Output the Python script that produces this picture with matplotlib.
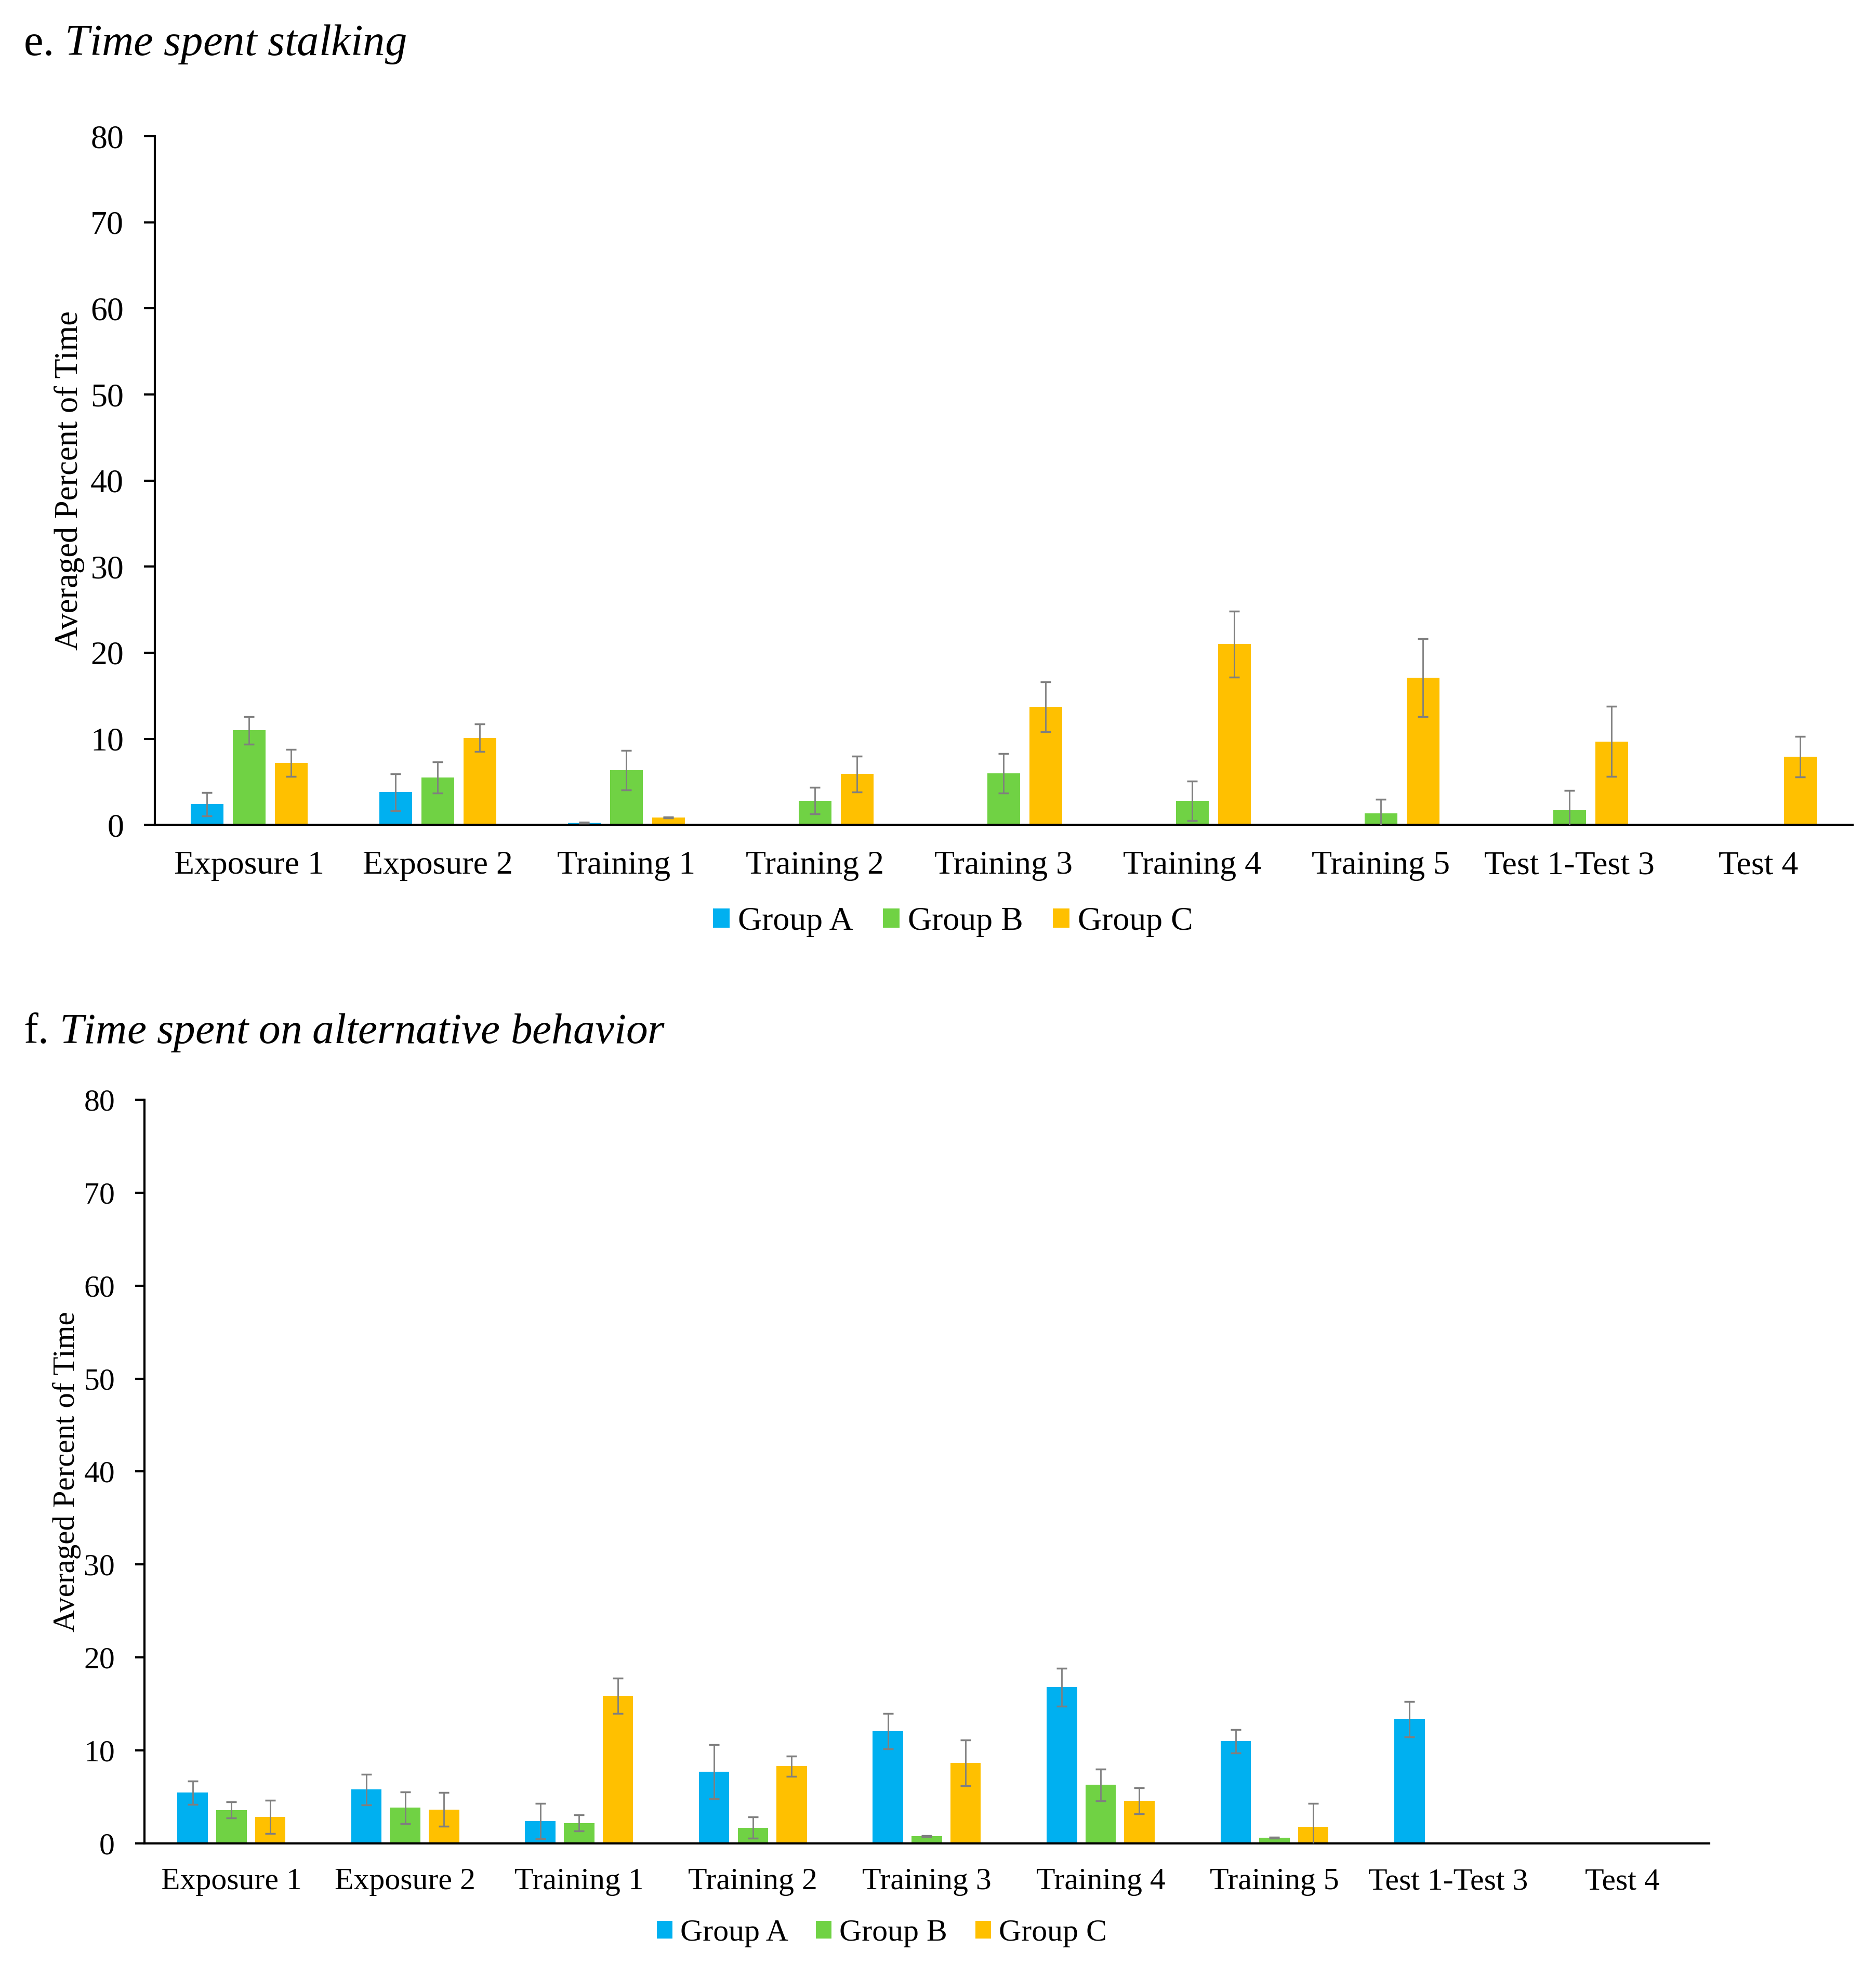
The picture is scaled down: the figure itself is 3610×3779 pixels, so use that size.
import numpy as np
import matplotlib.pyplot as plt

plt.rcParams['font.family'] = ['Liberation Serif', 'DejaVu Serif']
plt.rcParams['mathtext.fontset'] = 'custom'
plt.rcParams['mathtext.rm'] = 'Liberation Serif'
plt.rcParams['mathtext.it'] = 'Liberation Serif:italic'

categories = ["Exposure 1", "Exposure 2", "Training 1", "Training 2", "Training 3",
              "Training 4", "Training 5", "Test 1-Test 3", "Test 4"]
groups = ["Group A", "Group B", "Group C"]
colors = ["#00B0F0", "#70D244", "#FFC000"]

# e. time spent stalking (mean and error)
stalk_a = [2.4, 3.8, 0.25, 0, 0, 0, 0, 0, 0]
stalk_b = [11.0, 5.5, 6.35, 2.8, 6.0, 2.8, 1.35, 1.7, 0]
stalk_c = [7.2, 10.1, 0.85, 5.9, 13.7, 21.0, 17.1, 9.7, 7.9]
stalk_a_err = [1.35, 2.15, 0.05, 0, 0, 0, 0, 0, 0]
stalk_b_err = [1.6, 1.8, 2.3, 1.55, 2.3, 2.3, 1.6, 2.3, 0]
stalk_c_err = [1.55, 1.6, 0.05, 2.1, 2.9, 3.85, 4.5, 4.05, 2.35]

# f. time spent on alternative behavior
alt_a = [5.45, 5.8, 2.4, 7.7, 12.05, 16.8, 11.0, 13.35, 0]
alt_b = [3.6, 3.85, 2.2, 1.7, 0.8, 6.3, 0.6, 0, 0]
alt_c = [2.85, 3.65, 15.9, 8.3, 8.65, 4.6, 1.8, 0, 0]
alt_a_err = [1.25, 1.65, 1.9, 2.9, 1.9, 2.05, 1.25, 1.9, 0]
alt_b_err = [0.85, 1.7, 0.85, 1.15, 0.05, 1.7, 0.05, 0, 0]
alt_c_err = [1.8, 1.8, 1.9, 1.1, 2.45, 1.4, 2.5, 0, 0]


def draw_panel(ax, series, errors, fs, ticklen, xpad):
    x = np.arange(len(categories))
    w = 0.175
    step = 0.223
    for i in range(3):
        xs = x + (i - 1) * step
        v = np.array(series[i])
        e = np.array(errors[i])
        ax.bar(xs, v, width=w, color=colors[i], label=groups[i], zorder=2)
        m = e > 0
        ax.errorbar(xs[m], v[m], yerr=e[m], fmt='none', ecolor='#7f7f7f',
                    elinewidth=2, capsize=7.5, capthick=2.5, zorder=3)
    ax.set_xlim(-0.5, len(categories) - 0.5)
    ax.set_ylim(0, 80)
    ax.set_yticks(np.arange(0, 81, 10))
    ax.set_xticks(x)
    ax.set_xticklabels(categories, fontsize=fs)
    ax.tick_params(axis='y', labelsize=fs, length=ticklen, width=3, pad=28)
    ax.tick_params(axis='x', length=0, pad=xpad)
    for s in ['top', 'right']:
        ax.spines[s].set_visible(False)
    ax.spines['left'].set_linewidth(3)
    ax.spines['bottom'].set_linewidth(3)


fig = plt.figure(figsize=(36.1, 37.79), dpi=100)

# panel e
ax1 = fig.add_axes([0.0825, 0.580, 0.905, 0.3506])
draw_panel(ax1, [stalk_a, stalk_b, stalk_c], [stalk_a_err, stalk_b_err, stalk_c_err], 46, 15, 36)
fig.text(0.0125, 0.972, r"e. $\mathit{Time\ spent\ stalking}$", fontsize=61, va='baseline')
fig.text(0.037, 0.7553, "Averaged Percent of Time", rotation=90, fontsize=45,
         ha='center', va='center')
h, l = ax1.get_legend_handles_labels()
fig.legend(h, l, loc='center', bbox_to_anchor=(0.508, 0.5305), ncol=3, frameon=False,
           fontsize=46, handlelength=0.5, handleheight=0.5, handletextpad=0.25,
           columnspacing=0.9)

# panel f
ax2 = fig.add_axes([0.077, 0.0614, 0.834, 0.3787])
draw_panel(ax2, [alt_a, alt_b, alt_c], [alt_a_err, alt_b_err, alt_c_err], 43, 13, 34)
fig.text(0.0125, 0.4689, r"f. $\mathit{Time\ spent\ on\ alternative\ behavior}$", fontsize=60,
         va='baseline')
fig.text(0.0355, 0.2508, "Averaged Percent of Time", rotation=90, fontsize=42.5,
         ha='center', va='center')
h, l = ax2.get_legend_handles_labels()
fig.legend(h, l, loc='center', bbox_to_anchor=(0.470, 0.0155), ncol=3, frameon=False,
           fontsize=43, handlelength=0.5, handleheight=0.5, handletextpad=0.25,
           columnspacing=0.9)

fig.savefig("out.png", dpi=100)
